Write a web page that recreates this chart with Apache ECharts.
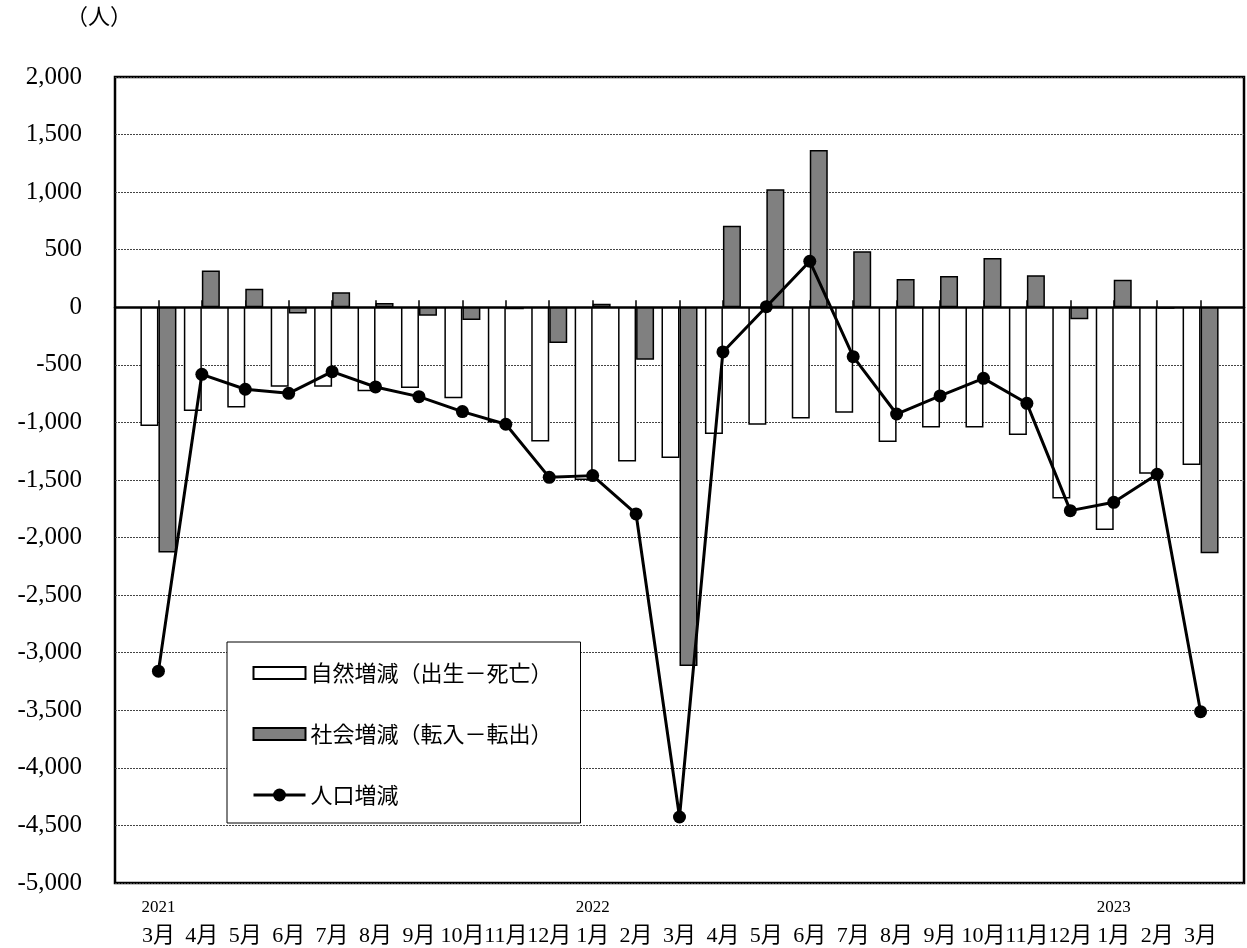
<!DOCTYPE html>
<html>
<head>
<meta charset="utf-8">
<script src="https://cdn.jsdelivr.net/npm/echarts@6/dist/echarts.min.js"></script>
<style>
html,body{margin:0;padding:0;background:#fff;}
#chart{width:1247px;height:948px;}
</style>
</head>
<body>
<div id="chart"></div>
<script>
const months = ['3月','4月','5月','6月','7月','8月','9月','10月','11月','12月','1月','2月','3月','4月','5月','6月','7月','8月','9月','10月','11月','12月','1月','2月','3月'];
const years = ['2021','','','','','','','','','','2022','','','','','','','','','','','','2023','',''];
const naturalChange = [-1030,-900,-870,-690,-690,-730,-700,-790,-1000,-1165,-1500,-1340,-1310,-1100,-1020,-965,-915,-1170,-1045,-1045,-1110,-1660,-1935,-1445,-1370];
const socialChange = [-2130,320,160,-55,130,37,-73,-110,-17,-310,31,-455,-3115,709,1025,1366,486,246,272,428,278,-104,240,-12,-2137];
const totalChange = [-3160,-582,-712,-747,-559,-692,-776,-906,-1016,-1477,-1462,-1795,-4427,-388,5,400,-429,-927,-770,-617,-834,-1766,-1694,-1450,-3512];

const seriesNames = ['自然増減（出生－死亡）','社会増減（転入－転出）','人口増減'];

// pad one empty slot at each end
const pad = arr => [null].concat(arr, [null]);
const cats = [''].concat(months.map((m, i) => i + ''), ['']);
const FONT = '"Liberation Serif", "Noto Sans CJK JP", serif';
const CJK = '"Noto Sans CJK JP", sans-serif';
const RECT_ICON = 'path://M0,0H52V12H0Z';

const chart = echarts.init(document.getElementById('chart'));
chart.setOption({
  animation: false,
  backgroundColor: '#fff',
  graphic: [{
    type: 'text', left: 66, top: 7,
    style: { text: '（人）', font: '22px ' + FONT, fill: '#000' }
  }],
  grid: { left: 115, right: 1, top: 77, bottom: 65, show: true, borderColor: '#000', borderWidth: 2.5, backgroundColor: 'transparent' },
  legend: {
    orient: 'vertical', left: 227, top: 642,
    padding: [18, 22, 15, 25],
    itemGap: 35, itemWidth: 52, itemHeight: 16,
    backgroundColor: '#fff', borderColor: '#000', borderWidth: 1,
    lineStyle: { width: 3, color: '#000' },
    textStyle: { fontFamily: CJK, fontSize: 22, color: '#000', lineHeight: 26, width: 248 },
    data: [
      { name: seriesNames[0], icon: RECT_ICON },
      { name: seriesNames[1], icon: RECT_ICON },
      { name: seriesNames[2] }
    ]
  },
  xAxis: [{
    type: 'category', data: cats, boundaryGap: false, position: 'bottom',
    axisLine: { show: false, onZero: false }, axisTick: { show: false }, splitLine: { show: false },
    axisLabel: {
      interval: 0, margin: 12,
      formatter: function (v) {
        if (v === '') return '';
        const i = +v;
        return '{y|' + (years[i] || ' ') + '}\n{m|' + months[i] + '}';
      },
      rich: {
        y: { fontFamily: FONT, fontSize: 17, lineHeight: 26, color: '#000' },
        m: { fontFamily: FONT, fontSize: 22, lineHeight: 30, color: '#000' }
      }
    }
  }, {
    type: 'category', data: cats, boundaryGap: false, position: 'top',
    axisLine: { show: true, onZero: true, onZeroAxisIndex: 0, lineStyle: { color: '#000', width: 2.5 } },
    axisTick: { show: true, inside: false, length: 7, lineStyle: { color: '#000', width: 1.5 } },
    axisLabel: { show: false }, splitLine: { show: false }
  }],
  yAxis: {
    type: 'value', min: -5000, max: 2000, interval: 500,
    axisLine: { show: false },
    axisTick: { show: false },
    axisLabel: {
      margin: 33, fontFamily: FONT, fontSize: 25, color: '#000',
      formatter: v => v.toLocaleString('en-US')
    },
    splitLine: { show: true, lineStyle: { color: '#444', width: 1, type: [2, 1] } }
  },
  series: [{
    name: seriesNames[0], type: 'bar', xAxisIndex: 0, data: pad(naturalChange),
    barWidth: 18, barGap: '0%',
    itemStyle: { color: '#fff', borderColor: '#000', borderWidth: 1.5 }
  }, {
    name: seriesNames[1], type: 'bar', xAxisIndex: 0, data: pad(socialChange),
    barWidth: 18, barGap: '0%',
    itemStyle: { color: '#808080', borderColor: '#000', borderWidth: 1.5 }
  }, {
    name: seriesNames[2], type: 'line', xAxisIndex: 0, data: pad(totalChange),
    symbol: 'circle', symbolSize: 13, z: 5,
    lineStyle: { color: '#000', width: 3 },
    itemStyle: { color: '#000' }
  }]
});
</script>
</body>
</html>
